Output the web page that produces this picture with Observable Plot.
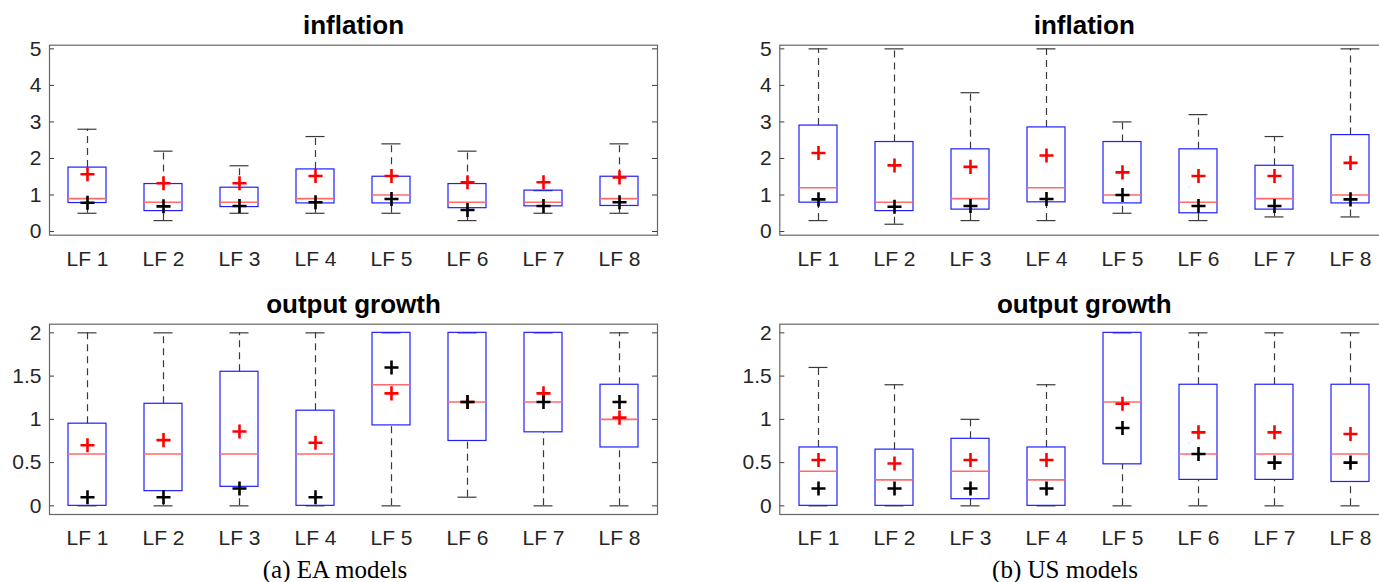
<!DOCTYPE html>
<html><head><meta charset="utf-8">
<script src="https://cdn.jsdelivr.net/npm/d3@7"></script>
<script src="https://cdn.jsdelivr.net/npm/@observablehq/plot@0.6"></script>
<style>
html,body{margin:0;padding:0;background:#fff;}
#wrap{position:relative;width:1379px;height:582px;overflow:hidden;}
.panel{position:absolute;overflow:hidden;}
.panel svg{max-width:none !important;display:block;}
.caption{position:absolute;font-family:"Liberation Serif","Times New Roman",serif;font-size:25px;line-height:25px;color:#000;transform:translateX(-50%);white-space:nowrap;}
</style></head><body><div id="wrap"></div>
<script>
const categories = ["LF 1","LF 2","LF 3","LF 4","LF 5","LF 6","LF 7","LF 8"];
const inflationTicks = [0,1,2,3,4,5];
const outputTicks = [0,0.5,1,1.5,2];

// EA models - inflation
const eaInflLow    = [0.5, 0.3, 0.5, 0.5, 0.5, 0.3, 0.5, 0.5];
const eaInflQ1     = [0.78, 0.56, 0.67, 0.77, 0.77, 0.64, 0.69, 0.70];
const eaInflMedian = [0.9, 0.8, 0.8, 0.9, 1.0, 0.8, 0.8, 0.9];
const eaInflQ3     = [1.75, 1.3, 1.2, 1.7, 1.5, 1.3, 1.12, 1.5];
const eaInflHigh   = [2.8, 2.2, 1.8, 2.6, 2.4, 2.2, 1.12, 2.4];
const eaInflRed    = [1.57, 1.32, 1.32, 1.52, 1.52, 1.35, 1.35, 1.48];
const eaInflBlack  = [0.79, 0.69, 0.7, 0.8, 0.89, 0.59, 0.7, 0.8];

// US models - inflation
const usInflLow    = [0.3, 0.2, 0.3, 0.3, 0.5, 0.3, 0.4, 0.4];
const usInflQ1     = [0.79, 0.56, 0.6, 0.8, 0.77, 0.5, 0.6, 0.77];
const usInflMedian = [1.2, 0.8, 0.9, 1.2, 1.0, 0.8, 0.9, 1.0];
const usInflQ3     = [2.9, 2.45, 2.25, 2.85, 2.45, 2.25, 1.8, 2.64];
const usInflHigh   = [5, 5, 3.8, 5, 3.0, 3.2, 2.6, 5];
const usInflRed    = [2.15, 1.81, 1.77, 2.08, 1.62, 1.52, 1.52, 1.88];
const usInflBlack  = [0.88, 0.68, 0.7, 0.89, 1.0, 0.7, 0.7, 0.88];

// EA models - output growth
const eaOutLow    = [0, 0, 0, 0, 0, 0.1, 0, 0];
const eaOutQ1     = [0, 0.17, 0.22, 0, 0.93, 0.75, 0.85, 0.675];
const eaOutMedian = [0.6, 0.6, 0.6, 0.6, 1.4, 1.2, 1.2, 1.0];
const eaOutQ3     = [0.95, 1.18, 1.55, 1.1, 2, 2, 2, 1.4];
const eaOutHigh   = [2, 2, 2, 2, 2, 2, 2, 2];
const eaOutRed    = [0.7, 0.76, 0.86, 0.73, 1.3, 1.2, 1.3, 1.02];
const eaOutBlack  = [0.1, 0.1, 0.2, 0.1, 1.6, 1.2, 1.2, 1.2];

// US models - output growth
const usOutLow    = [0, 0, 0, 0, 0, 0, 0, 0];
const usOutQ1     = [0, 0, 0.077, 0, 0.48, 0.3, 0.3, 0.276];
const usOutMedian = [0.4, 0.3, 0.4, 0.3, 1.2, 0.6, 0.6, 0.6];
const usOutQ3     = [0.675, 0.65, 0.775, 0.675, 2, 1.4, 1.4, 1.4];
const usOutHigh   = [1.6, 1.4, 1.0, 1.4, 2, 2, 2, 2];
const usOutRed    = [0.53, 0.49, 0.53, 0.53, 1.18, 0.85, 0.85, 0.83];
const usOutBlack  = [0.2, 0.2, 0.2, 0.2, 0.9, 0.6, 0.5, 0.5];

const wrap = document.getElementById("wrap");

function panel(o) {
  const rows = categories.map((c, i) => ({
    cat: c, lo: o.lo[i], q1: o.q1[i], med: o.med[i], q3: o.q3[i], hi: o.hi[i], red: o.red[i], black: o.black[i]
  }));
  const fw = o.width - o.mL - o.mR;
  const bw = fw / 8 * 0.5;
  const gray = "#3a3a3a";
  const svg = Plot.plot({
    width: o.width, height: o.height,
    marginLeft: o.mL, marginRight: o.mR, marginTop: o.mT, marginBottom: o.mB,
    style: {fontFamily: "'Liberation Sans', Arial, sans-serif", fontSize: "21px", color: "#262626", background: "transparent", maxWidth: "none"},
    x: {domain: categories, paddingInner: 0.5, paddingOuter: 0.25, tickSize: 0, tickPadding: 16, label: null},
    y: {domain: o.yDomain, ticks: o.yTicks, tickSize: 0, tickPadding: 8, label: null, tickFormat: d => String(d)},
    marks: [
      Plot.ruleX(rows, {x: "cat", y1: "q3", y2: "hi", stroke: gray, strokeWidth: 1.2, strokeDasharray: "7,5"}),
      Plot.ruleX(rows, {x: "cat", y1: "lo", y2: "q1", stroke: gray, strokeWidth: 1.2, strokeDasharray: "7,5"}),
      Plot.tickY(rows, {x: "cat", y: "hi", insetLeft: bw / 4, insetRight: bw / 4, stroke: gray, strokeWidth: 1.2}),
      Plot.tickY(rows, {x: "cat", y: "lo", insetLeft: bw / 4, insetRight: bw / 4, stroke: gray, strokeWidth: 1.2}),
      Plot.barY(rows, {x: "cat", y1: "q1", y2: "q3", fill: "none", stroke: "#2020ff", strokeWidth: 1.2}),
      Plot.tickY(rows, {x: "cat", y: "med", stroke: "#ff6b6b", strokeWidth: 1.6}),
      Plot.dot(rows, {x: "cat", y: "red", symbol: "plus", r: 4.6, stroke: "#ff0000", strokeWidth: 2.6}),
      Plot.dot(rows, {x: "cat", y: "black", symbol: "plus", r: 4.6, stroke: "#000", strokeWidth: 2.6}),
      Plot.tickY(o.yTicks, {y: d => d, insetRight: fw - 5, stroke: gray, strokeWidth: 1}),
      Plot.tickY(o.yTicks, {y: d => d, insetLeft: fw - 5, stroke: gray, strokeWidth: 1}),
      Plot.frame({stroke: "#666", strokeWidth: 1.2}),
      Plot.text([o.title], {frameAnchor: "top", dy: -11.4, lineAnchor: "bottom", text: d => d,
        fontWeight: "bold", fontSize: 26, fill: "#000"})
    ]
  });
  svg.style.maxWidth = "none";
  svg.style.width = o.width + "px";
  svg.style.height = o.height + "px";
  const div = document.createElement("div");
  div.className = "panel";
  div.style.left = o.left + "px";
  div.style.top = o.top + "px";
  div.style.width = o.width + "px";
  div.style.height = o.height + "px";
  div.appendChild(svg);
  wrap.appendChild(div);
}

panel({title: "inflation", yDomain: [-0.1, 5.1], yTicks: inflationTicks,
  lo: eaInflLow, q1: eaInflQ1, med: eaInflMedian, q3: eaInflQ3, hi: eaInflHigh, red: eaInflRed, black: eaInflBlack,
  left: 0, top: 0, width: 690, height: 280, mL: 49, mR: 33, mT: 44.7, mB: 45.3});
panel({title: "output growth", yDomain: [-0.1, 2.1], yTicks: outputTicks,
  lo: eaOutLow, q1: eaOutQ1, med: eaOutMedian, q3: eaOutQ3, hi: eaOutHigh, red: eaOutRed, black: eaOutBlack,
  left: 0, top: 280, width: 690, height: 280, mL: 49, mR: 33, mT: 43.7, mB: 46});
// right-hand panels: frame runs past the right edge of the page (clipped, as in the reference)
panel({title: "inflation", yDomain: [-0.1, 5.1], yTicks: inflationTicks,
  lo: usInflLow, q1: usInflQ1, med: usInflMedian, q3: usInflQ3, hi: usInflHigh, red: usInflRed, black: usInflBlack,
  left: 690, top: 0, width: 689, height: 280, mL: 89.3, mR: -9.3, mT: 44.7, mB: 45.3});
panel({title: "output growth", yDomain: [-0.1, 2.1], yTicks: outputTicks,
  lo: usOutLow, q1: usOutQ1, med: usOutMedian, q3: usOutQ3, hi: usOutHigh, red: usOutRed, black: usOutBlack,
  left: 690, top: 280, width: 689, height: 280, mL: 89.3, mR: -9.3, mT: 43.7, mB: 46});

const captions = [["(a) EA models", 335], ["(b) US models", 1065]];
for (const [t, x] of captions) {
  const c = document.createElement("div");
  c.className = "caption";
  c.textContent = t;
  c.style.left = x + "px";
  c.style.top = "557px";
  wrap.appendChild(c);
}
</script>
</body></html>
